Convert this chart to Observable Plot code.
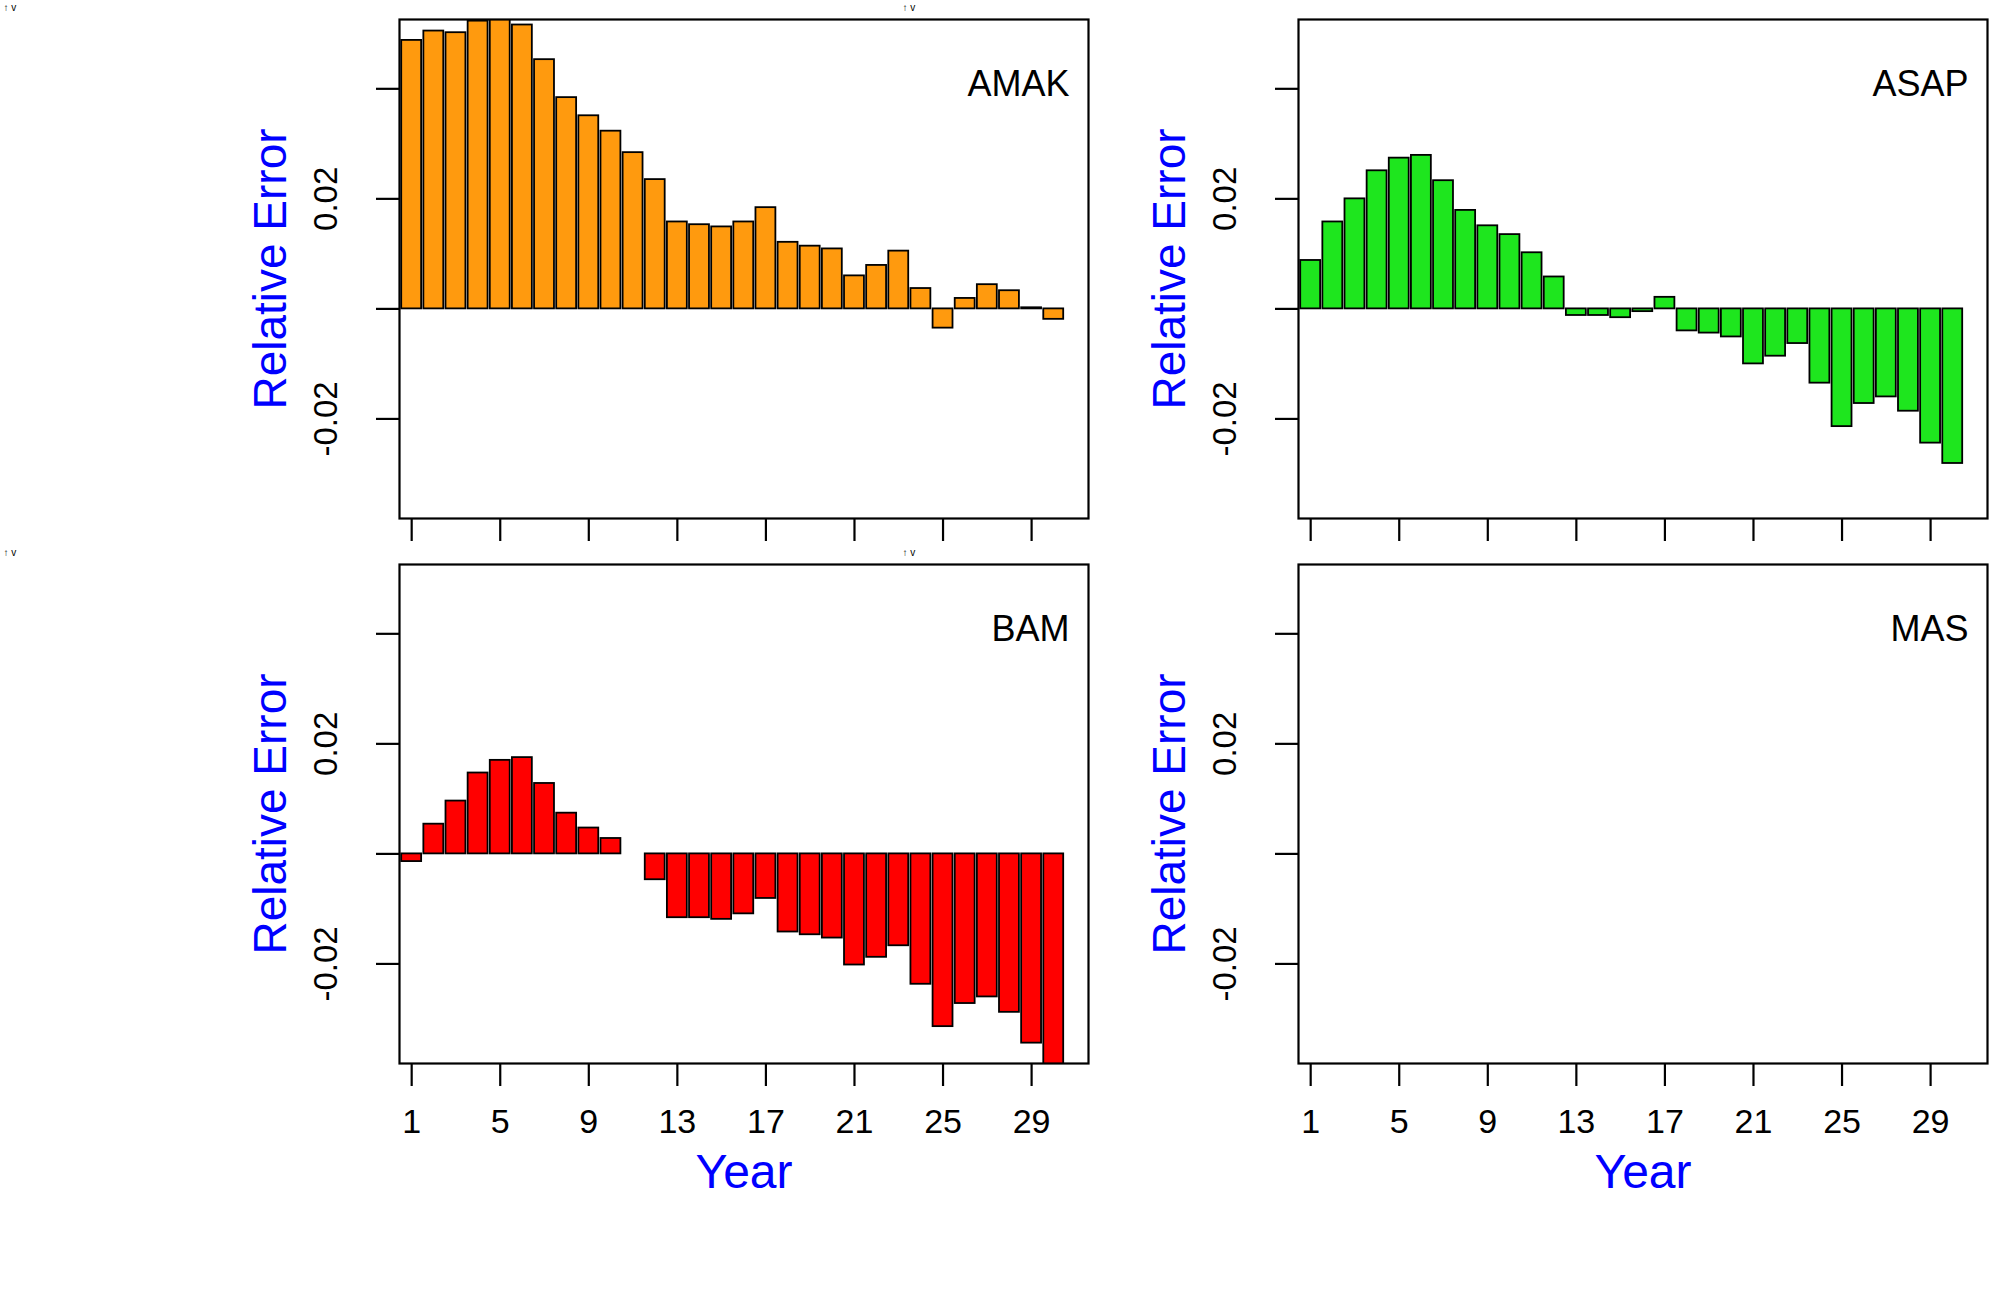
<!DOCTYPE html>
<html><head><meta charset="utf-8">
<script src="https://cdn.jsdelivr.net/npm/d3@7"></script>
<script src="https://cdn.jsdelivr.net/npm/@observablehq/plot@0.6"></script>
<style>
body{margin:0;background:white;}
#wrap{position:relative;width:2007px;height:1299px;font-family:"Liberation Sans",Arial,sans-serif;}
#wrap svg{position:absolute;overflow:visible;background:transparent;max-width:none;}
</style></head>
<body><div id="wrap"></div>
<script>
const years = d3.range(1, 31);
const amak = [0.0488,0.0505,0.0502,0.0523,0.0530,0.0516,0.0453,0.0384,0.0351,0.0323,0.0284,0.0235,0.0158,0.0153,0.0149,0.0158,0.0184,0.0121,0.0114,0.0109,0.0060,0.0079,0.0105,0.0037,-0.0035,0.0019,0.0044,0.0033,0.0002,-0.0019];
const asap = [0.0088,0.0158,0.0200,0.0251,0.0274,0.0279,0.0233,0.0179,0.0151,0.0135,0.0102,0.0058,-0.0012,-0.0012,-0.0016,-0.0005,0.0021,-0.0040,-0.0044,-0.0051,-0.0100,-0.0086,-0.0063,-0.0135,-0.0214,-0.0172,-0.0160,-0.0186,-0.0244,-0.0281];
const bam = [-0.0014,0.0054,0.0096,0.0147,0.0170,0.0175,0.0128,0.0074,0.0047,0.0028,0,-0.0047,-0.0116,-0.0116,-0.0119,-0.0109,-0.0081,-0.0142,-0.0147,-0.0153,-0.0202,-0.0188,-0.0167,-0.0237,-0.0314,-0.0272,-0.0260,-0.0288,-0.0344,-0.0390];
const mas = years.map(() => 0);
const yTicks = [-0.02, 0, 0.02, 0.04];
const yLabels = [-0.02, 0.02];
const xTicks = [1,5,9,13,17,21,25,29];

const panels = [
  {name:"AMAK", vals:amak, fill:"#ff9a0e", left:0, top:0, bottom:false},
  {name:"ASAP", vals:asap, fill:"#1ee61e", left:899, top:0, bottom:false},
  {name:"BAM", vals:bam, fill:"#ff0000", left:0, top:545, bottom:true},
  {name:"MAS", vals:mas, fill:"#ffffff", left:899, top:545, bottom:true}
];

const font = '"Liberation Sans", Arial, sans-serif';
panels.forEach(p => {
  const data = years.map((yr, i) => ({yr, v: p.vals[i]}));
  const chart = Plot.plot({
    width: 1108, height: 690,
    marginLeft: 399, marginRight: 20, marginTop: 19, marginBottom: 172,
    style: {fontFamily: font, background: "transparent", overflow: "visible"},
    x: {domain: [0.45, 31.57]},
    y: {domain: [-0.0381, 0.0526]},
    marks: [
      Plot.rect(data, {x1: d => d.yr - 0.45, x2: d => d.yr + 0.45, y1: 0, y2: "v",
        fill: p.fill, stroke: "black", strokeWidth: 1.8, clip: true}),
      Plot.frame({stroke: "black", strokeWidth: 2.2}),
      Plot.axisY({ticks: yTicks, tickSize: 23, tickFormat: () => "", strokeWidth: 2.2}),
      Plot.text(yLabels, {y: d => d, text: d => d.toFixed(2), frameAnchor: "left", dx: -73,
        rotate: -90, fontSize: 33, fill: "black", textAnchor: "middle"}),
      Plot.text(["Relative Error"], {frameAnchor: "left", dx: -128, rotate: -90, fontSize: 46,
        fill: "#0000ff", textAnchor: "middle"}),
      Plot.axisX({ticks: xTicks, tickSize: 23, strokeWidth: 2.2, tickPadding: 22,
        fontSize: 34, fill: "black", tickFormat: p.bottom ? d => d : () => "", label: null}),
      Plot.text([p.name], {frameAnchor: "top-right", dx: -19, dy: 51, fontSize: 36, fill: "black"}),
      p.bottom ? Plot.text(["Year"], {frameAnchor: "bottom", dy: 124, fontSize: 48, fill: "#0000ff"}) : null
    ]
  });
  chart.style.left = p.left + "px";
  chart.style.top = p.top + "px";
  document.getElementById("wrap").append(chart);
});
</script></body></html>
